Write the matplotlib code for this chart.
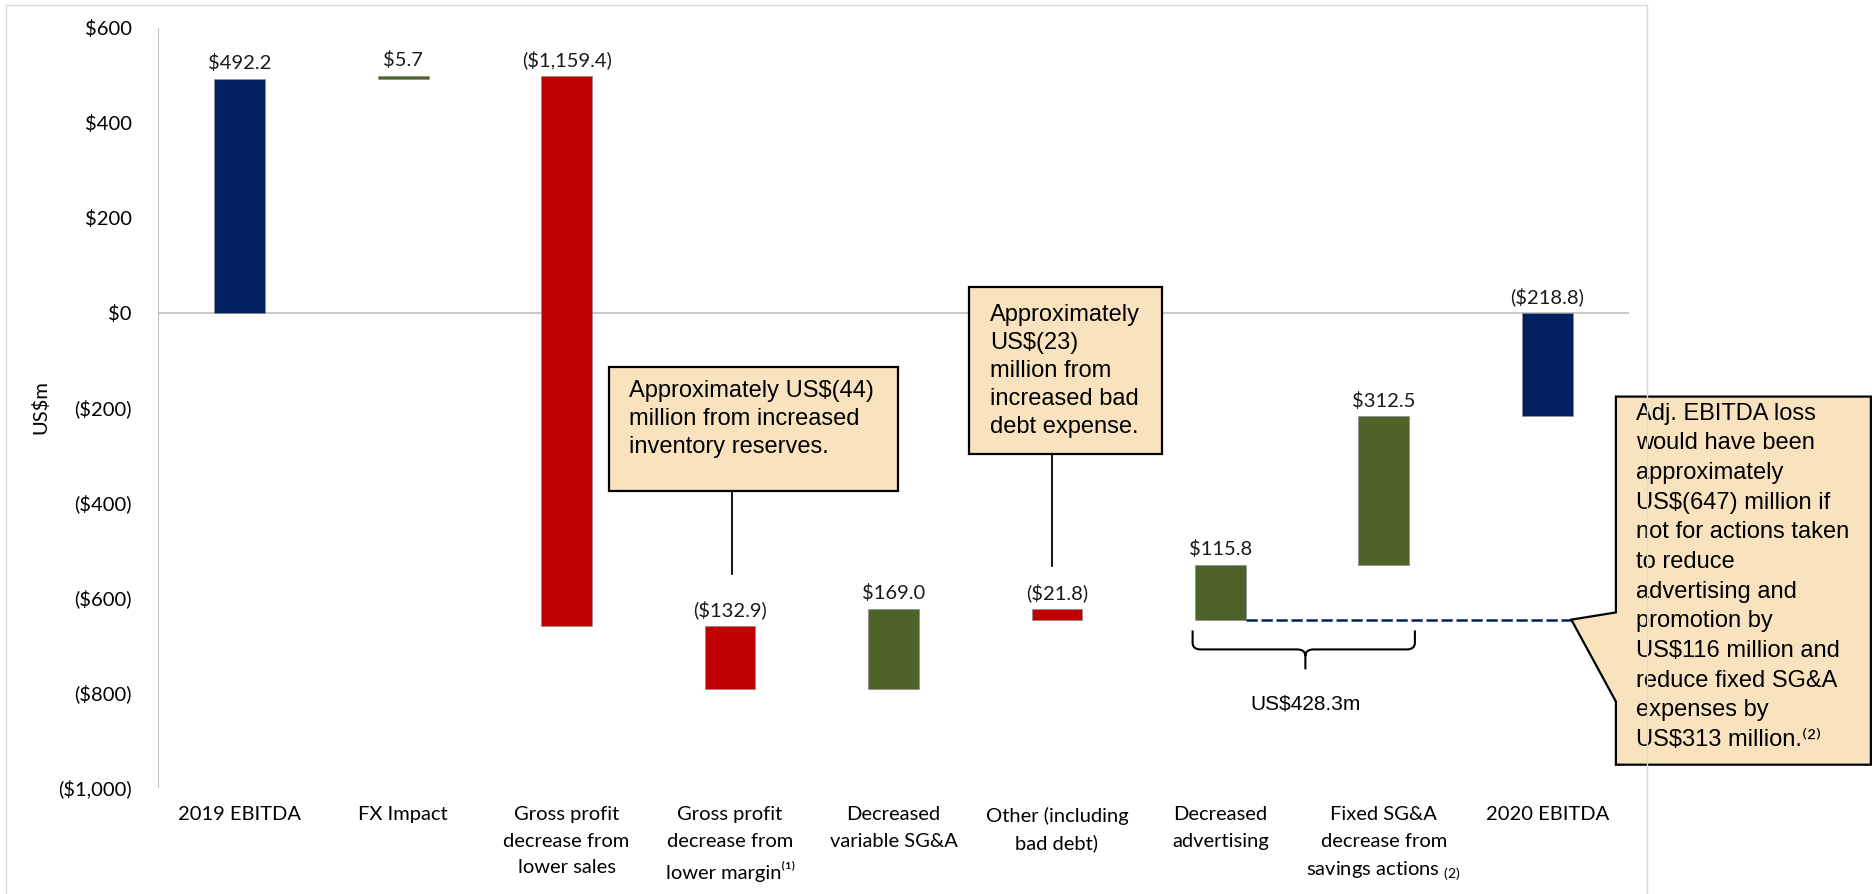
import numpy as np
import matplotlib
matplotlib.use('Agg')
import matplotlib.pyplot as plt
from matplotlib.patches import Rectangle, Polygon, PathPatch
from matplotlib.path import Path

plt.rcParams['font.family'] = ['Lato', 'DejaVu Sans']

categories = ['2019 EBITDA', 'FX Impact',
              'Gross profit\ndecrease from\nlower sales',
              'Gross profit\ndecrease from\nlower margin\u207d\u00b9\u207e',
              'Decreased\nvariable SG&A', 'Other (including\nbad debt)',
              'Decreased\nadvertising',
              'Fixed SG&A\ndecrease from\nsavings actions $_{\\mathdefault{(2)}}$',
              '2020 EBITDA']
values = [492.2, 5.7, -1159.4, -132.9, 169.0, -21.8, 115.8, 312.5, -218.8]
is_total = [True, False, False, False, False, False, False, False, True]

savings_label = 'US$428.3m'
note_inventory = 'Approximately US$(44)\nmillion from increased\ninventory reserves.'
note_bad_debt = 'Approximately\nUS$(23)\nmillion from\nincreased bad\ndebt expense.'
note_adj = ('Adj. EBITDA loss\nwould have been\napproximately\nUS$(647) million if\n'
            'not for actions taken\nto reduce\nadvertising and\npromotion by\n'
            'US$116 million and\nreduce fixed SG&A\nexpenses by\n'
            'US$313 million.\u207d\u00b2\u207e')

NAVY = '#002060'
GREEN = '#4F6228'
RED = '#C00000'
NOTE_FILL = '#F9E3BF'
GREY = '#BFBFBF'


def money(v):
    if v < 0:
        return '(${:,.1f})'.format(-v)
    return '${:,.1f}'.format(v)


def tick_money(v, pos=None):
    if v < 0:
        return '(${:,.0f})'.format(-v)
    return '${:,.0f}'.format(v)


# running waterfall levels
bottoms = []
heights = []
colors = []
level = 0.0
for v, tot in zip(values, is_total):
    if tot:
        bottoms.append(0.0)
        heights.append(v)
        colors.append(NAVY)
        level = v
    else:
        bottoms.append(level)
        heights.append(v)
        colors.append(GREEN if v > 0 else RED)
        level += v

fig = plt.figure(figsize=(18.72, 8.94), dpi=100)
ax = fig.add_axes([158 / 1872, 1 - 787 / 894, 1471 / 1872, 759 / 894])

x = np.arange(len(categories))
bw = 0.31
ax.bar(x, heights, bottom=bottoms, width=bw, color=colors,
       edgecolor='#8c8c8c', linewidth=0.5, zorder=3)

for xi, b, h in zip(x, bottoms, heights):
    top = max(b, b + h)
    ax.annotate(money(h), (xi, top), xytext=(0, 5), textcoords='offset points',
                ha='center', va='bottom', fontsize=14.5, color='#1a1a1a')

ax.set_xlim(-0.5, 8.5)
ax.set_ylim(-1000, 600)
ax.set_yticks(np.arange(-1000, 601, 200))
ax.yaxis.set_major_formatter(plt.FuncFormatter(tick_money))
ax.set_xticks(x)
ax.set_xticklabels(categories, fontsize=14.5, linespacing=1.65)
ax.tick_params(axis='y', length=0, pad=19, labelsize=14.5)
ax.tick_params(axis='x', length=0, pad=14)
for s in ['top', 'right', 'bottom']:
    ax.spines[s].set_visible(False)
ax.spines['left'].set_color(GREY)
ax.axhline(0, color=GREY, lw=1.2, zorder=1)

fig.text(40 / 1872, 1 - 407 / 894, 'US$m', rotation=90, ha='center', va='center',
         fontsize=14.5)

# level before cost savings, extended to the right-hand note
pre_savings = bottoms[6]
ax.plot([6 + bw / 2, 8.147], [pre_savings, pre_savings], color=NAVY, lw=1.8,
        dashes=(4.5, 1.5), zorder=4, clip_on=False)

# curly brace under the two savings bars
x0, x1, xc = 5.83, 7.19, 6.52
y0, y1, yt = -670, -710, -752
dx, r = 0.05, 14
verts = [(x0, y0), (x0, y1 + r), (x0, y1), (x0 + dx, y1),
         (xc - dx, y1), (xc, y1), (xc, y1 - r), (xc, yt),
         (xc, y1 - r), (xc, y1), (xc + dx, y1),
         (x1 - dx, y1), (x1, y1), (x1, y1 + r), (x1, y0)]
codes = [Path.MOVETO, Path.LINETO, Path.CURVE3, Path.CURVE3,
         Path.LINETO, Path.CURVE3, Path.CURVE3, Path.LINETO,
         Path.MOVETO, Path.CURVE3, Path.CURVE3,
         Path.LINETO, Path.CURVE3, Path.CURVE3, Path.LINETO]
ax.add_patch(PathPatch(Path(verts, codes), fill=False, lw=1.5, color='black'))
ax.text(xc, -826, savings_label, ha='center', va='center', fontsize=15,
        family='Liberation Sans')

note_kw = dict(family=['Liberation Sans', 'DejaVu Sans'], fontsize=17,
               ha='left', va='top', color='black', zorder=6)

# inventory note
ax.add_patch(Rectangle((2.26, -376), 4.03 - 2.26, 262, facecolor=NOTE_FILL,
                       edgecolor='black', lw=1.6, zorder=5))
ax.text(2.38, -141, note_inventory, linespacing=1.38, **note_kw)
ax.plot([3.01, 3.01], [-376, -551], color='black', lw=1.3, zorder=4)

# bad debt note
ax.add_patch(Rectangle((4.46, -298), 5.64 - 4.46, 351, facecolor=NOTE_FILL,
                       edgecolor='black', lw=1.6, zorder=5))
ax.text(4.59, 19, note_bad_debt, linespacing=1.36, **note_kw)
ax.plot([4.97, 4.97], [-298, -535], color='black', lw=1.3, zorder=4)

# adjusted EBITDA callout with pointer
xl, xr, yb, ytop = 8.42, 9.98, -953, -177
callout = Polygon([(xl, ytop), (xr, ytop), (xr, yb), (xl, yb), (xl, -820),
                   (8.147, pre_savings), (xl, -632)], closed=True,
                  facecolor=NOTE_FILL, edgecolor='black', lw=1.6, zorder=5,
                  clip_on=False)
ax.add_patch(callout)
ax.text(8.54, -190, note_adj, clip_on=False, linespacing=1.45, **note_kw)

# outer chart border
fig.patches.append(Rectangle((6 / 1872, -0.01), 1641 / 1872, 1.01 - 5 / 894,
                             transform=fig.transFigure, fill=False,
                             edgecolor='#D9D9D9', lw=1))

fig.savefig('out.png', dpi=100)
